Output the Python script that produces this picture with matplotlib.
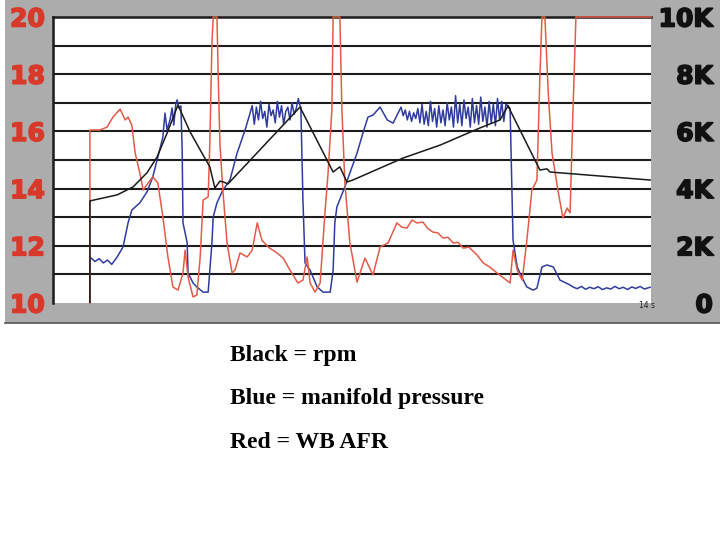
import matplotlib.pyplot as plt
import matplotlib.patches as patches
import matplotlib.patheffects as pe
import numpy as np

# Time axis in seconds.
afr_time = [0.88, 0.88, 1.12, 1.29, 1.43, 1.60, 1.72, 1.79, 1.88, 1.96, 2.07, 2.15, 2.27, 2.38, 2.50,
            2.62, 2.74, 2.86, 2.98, 3.10, 3.15, 3.22, 3.34, 3.43, 3.51, 3.58, 3.70, 3.74, 3.79, 3.82,
            3.91, 3.94, 3.98, 4.05, 4.15, 4.27, 4.34, 4.46, 4.63, 4.75, 4.87, 4.98, 5.13, 5.34, 5.49,
            5.65, 5.84, 5.96, 6.06, 6.13, 6.25, 6.37, 6.49, 6.56, 6.65, 6.68, 6.84, 6.89, 6.96, 7.08,
            7.25, 7.44, 7.63, 7.80, 7.99, 8.20, 8.32, 8.44, 8.56, 8.68, 8.82, 8.94, 9.06, 9.18, 9.30,
            9.42, 9.54, 9.66, 9.78, 9.92, 10.11, 10.26, 10.42, 10.59, 10.90, 10.97, 11.07, 11.19, 11.30,
            11.42, 11.54, 11.61, 11.66, 11.73, 11.81, 11.90, 12.04, 12.16, 12.26, 12.33, 12.40, 12.47, 14.26]
afr_vals = [10.0, 16.05, 16.05, 16.15, 16.50, 16.78, 16.40, 16.50, 16.22, 15.24, 14.55, 13.95, 14.20, 14.41, 14.20,
            13.01, 11.61, 10.56, 10.45, 11.05, 11.85, 10.91, 10.21, 10.28, 11.61, 13.60, 13.71, 15.59, 19.09, 20.0,
            20.0, 17.90, 15.59, 13.95, 12.10, 11.05, 11.15, 11.75, 11.61, 11.85, 12.80, 12.20, 11.96, 11.75, 11.57,
            11.15, 10.70, 10.80, 11.61, 10.70, 10.38, 10.70, 13.25, 14.55, 16.75, 20.0, 20.0, 16.75, 14.20, 12.10,
            10.73, 11.57, 10.98, 11.96, 12.10, 12.80, 12.65, 12.62, 12.90, 12.80, 12.83, 12.60, 12.48, 12.45, 12.27,
            12.30, 12.10, 12.12, 11.92, 11.95, 11.68, 11.40, 11.25, 11.05, 10.70, 11.85, 11.15, 10.80, 12.20,
            13.95, 14.30, 17.90, 20.0, 20.0, 17.34, 15.24, 13.95, 12.97, 13.32, 13.15, 16.75, 20.0, 20.0]

map_time = [0.88, 0.88, 1.00, 1.10, 1.20, 1.30, 1.40, 1.53, 1.67, 1.79, 1.88, 2.07, 2.24, 2.38, 2.50,
            2.62, 2.67, 2.72, 2.79, 2.84, 2.88, 2.93, 2.96, 3.00, 3.05, 3.08, 3.10, 3.20, 3.22, 3.34,
            3.43, 3.58, 3.70, 3.79, 3.82, 3.91, 4.05, 4.22, 4.39, 4.58,
            4.70, 4.75, 4.80, 4.85, 4.90, 4.95, 5.00, 5.05, 5.10, 5.15, 5.20, 5.25, 5.30, 5.35, 5.40,
            5.45, 5.50, 5.55, 5.60, 5.65, 5.70, 5.75, 5.80, 5.85, 5.89,
            5.91, 5.96, 6.01, 6.13, 6.30, 6.44, 6.61, 6.68, 6.72, 6.77, 6.96, 7.08, 7.25, 7.39, 7.51,
            7.63, 7.80, 7.97, 8.11,
            8.30, 8.35, 8.40, 8.45, 8.50, 8.55, 8.60, 8.65, 8.70, 8.75, 8.80, 8.85, 8.90, 8.95, 9.00,
            9.05, 9.10, 9.15, 9.20, 9.25, 9.30, 9.35, 9.40, 9.45, 9.50, 9.55, 9.60, 9.65, 9.70, 9.75,
            9.80, 9.85, 9.90, 9.95, 10.00, 10.05, 10.10, 10.15, 10.20, 10.25, 10.30, 10.35, 10.40, 10.45,
            10.50, 10.55, 10.60, 10.65, 10.70, 10.75, 10.80, 10.85,
            10.90, 10.97, 11.07, 11.19, 11.30, 11.45, 11.54, 11.66, 11.78, 11.93, 12.09, 12.33,
            12.40, 12.50, 12.60, 12.70, 12.80, 12.90, 13.00, 13.10, 13.20, 13.30, 13.40, 13.50, 13.60,
            13.70, 13.80, 13.90, 14.00, 14.10, 14.24]
map_vals = [10.0, 11.61, 11.45, 11.55, 11.40, 11.50, 11.35, 11.61, 11.96, 12.80, 13.25, 13.50, 13.88, 14.41, 15.10,
            15.80, 16.64, 16.05, 16.40, 16.82, 16.22, 16.99, 17.10, 16.82, 16.89, 15.35, 12.80, 12.10, 11.05, 10.70,
            10.56, 10.38, 10.38, 12.10, 13.01, 13.50, 13.95, 14.30, 15.24, 16.05,
            16.64, 16.90, 16.25, 16.85, 16.40, 17.05, 16.45, 16.70, 16.15, 16.95, 16.55, 16.75, 16.30, 17.05, 16.50,
            16.90, 16.25, 16.70, 16.85, 16.40, 17.00, 16.60, 16.80, 17.15, 16.90,
            16.85, 13.60, 11.40, 11.15, 10.56, 10.38, 10.38, 11.15, 12.80, 13.36, 14.06, 14.55, 15.24, 15.94, 16.50,
            16.57, 16.85, 16.40, 16.29,
            16.85, 16.55, 16.75, 16.40, 16.70, 16.35, 16.65, 16.45, 16.80, 16.30, 16.95, 16.25, 16.70, 16.20, 17.05,
            16.35, 16.80, 16.15, 16.90, 16.30, 16.75, 16.20, 17.00, 16.40, 16.85, 16.15, 17.25, 16.30, 16.95, 16.20,
            17.10, 16.45, 16.85, 16.15, 17.15, 16.30, 16.90, 16.25, 17.20, 16.35, 16.85, 16.15, 17.05, 16.30,
            16.95, 16.20, 17.15, 16.40, 17.05, 16.35, 16.95, 16.90,
            16.80, 12.20, 11.26, 10.87, 10.56, 10.45, 10.52, 11.26, 11.33, 11.26, 10.80, 10.63,
            10.56, 10.50, 10.58, 10.48, 10.55, 10.50, 10.57, 10.47, 10.53, 10.49, 10.58, 10.50, 10.55,
            10.47, 10.56, 10.51, 10.58, 10.49, 10.55]

rpm_time = [0.88, 0.88, 1.53, 1.91, 2.24, 2.48, 2.72, 2.96, 2.98, 3.27, 3.51, 3.74, 3.86, 3.98, 4.07,
            4.17, 5.89, 6.68, 6.84, 7.01, 7.15, 8.35, 9.23, 10.18, 10.66, 10.85, 11.61, 11.78, 11.85, 14.24]
rpm_vals = [0, 3570, 3780, 4060, 4550, 5100, 5940, 6850, 6920, 5980, 5350, 4760, 4020, 4260, 4230,
            4160, 6850, 4580, 4760, 4230, 4300, 5070, 5520, 6120, 6400, 6890, 4650, 4690, 4580, 4300]

afr_ticks = [10, 12, 14, 16, 18, 20]
rpm_ticks = [0, 2000, 4000, 6000, 8000, 10000]
rpm_labels = ['0', '2K', '4K', '6K', '8K', '10K']
legend_lines = ['Black = rpm', 'Blue = manifold pressure', 'Red = WB AFR']

fig = plt.figure(figsize=(7.2, 5.4), dpi=100)

# Grey bezel of the logger screen, on a background axes so the plot sits above it
bg = fig.add_axes([0, 0, 1, 1], zorder=0)
bg.set_xlim(0, 720)
bg.set_ylim(540, 0)
bg.axis('off')
bg.add_patch(patches.Rectangle((5, 0), 715, 323, facecolor='#acacac', edgecolor='none'))
bg.plot([5, 720], [323, 323], color='#555555', lw=1.2)

ax = fig.add_axes([53 / 720, 1 - 303 / 540, 598 / 720, 286 / 540], zorder=1)
ax.set_facecolor('white')
ax.set_xlim(0, 14.26)
ax.set_ylim(10, 20)

# Horizontal grid every unit of AFR
for level in range(11, 20):
    ax.axhline(level, color='#1c1c1c', lw=1.5, zorder=1)

for side in ['right', 'bottom']:
    ax.spines[side].set_visible(False)
ax.spines['top'].set_linewidth(1.8)
ax.spines['left'].set_linewidth(1.8)
ax.spines['top'].set_color('#1c1c1c')
ax.spines['left'].set_color('#1c1c1c')

red_label = '#d8392a'
ax.set_xticks([])
ax.set_yticks(afr_ticks)
ax.set_yticklabels([str(t) for t in afr_ticks])
ax.tick_params(axis='y', length=0, pad=5.8, labelsize=18, labelcolor=red_label)
for lbl in ax.get_yticklabels():
    lbl.set_fontweight('heavy')
    lbl.set_path_effects([pe.withStroke(linewidth=1.2, foreground=red_label)])

ax.plot(map_time, map_vals, color='#2f3c9e', lw=1.1, zorder=3)
ax.plot(afr_time, afr_vals, color='#e45a48', lw=1.1, zorder=4, clip_on=False)

ax2 = ax.twinx()
ax2.set_ylim(0, 10000)
for side in ['right', 'bottom', 'top', 'left']:
    ax2.spines[side].set_visible(False)
ax2.plot(rpm_time, rpm_vals, color='#1a1a1a', lw=1.1, zorder=5)
ax2.set_yticks(rpm_ticks)
ax2.set_yticklabels(rpm_labels)
ax2.tick_params(axis='y', length=0, pad=44.6, labelsize=18, labelcolor='#111111')
for lbl in ax2.get_yticklabels():
    lbl.set_ha('right')
    lbl.set_fontweight('heavy')
    lbl.set_path_effects([pe.withStroke(linewidth=1.2, foreground='#111111')])

fig.text(647 / 720, 1 - 306 / 540, '14 s', fontsize=5.5, color='#222222', ha='center', va='center')

# Legend written under the screen
for i, line in enumerate(legend_lines):
    fig.text(230 / 720, 1 - (355 + 43.5 * i) / 540, line, family='Liberation Serif', fontweight='bold',
             fontsize=17, ha='left', va='center')

fig.savefig('out.png', dpi=100)
